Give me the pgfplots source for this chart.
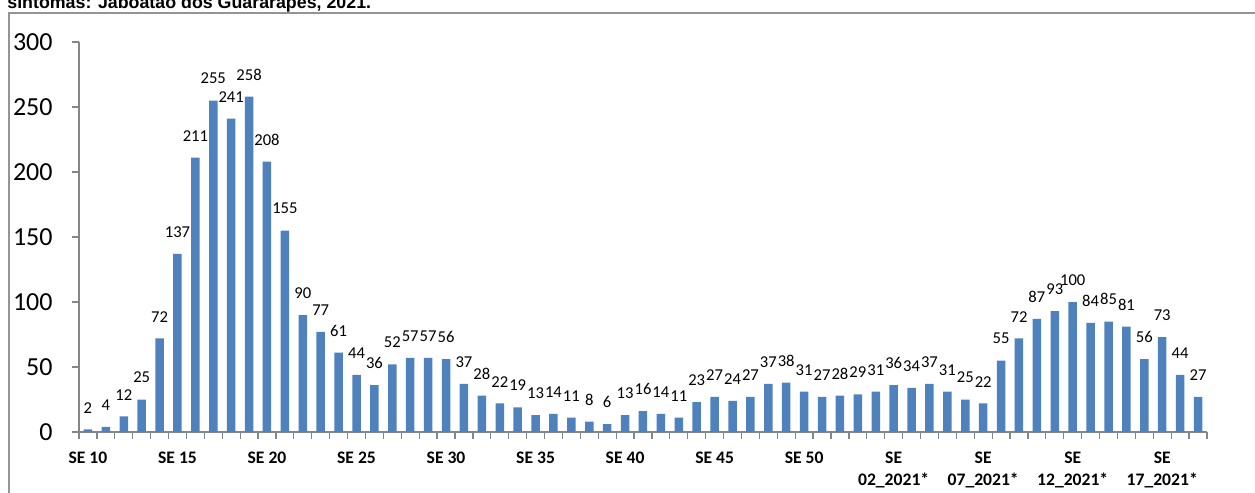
\documentclass[border=0pt]{standalone}
\usepackage{pgfplots}
\pgfplotsset{compat=1.18}
\usepackage{fontspec}
\setmainfont{Carlito}
\newfontfamily\arialfont{Liberation Sans}
\definecolor{barblue}{HTML}{4F81BD}
\definecolor{axisgray}{HTML}{868686}
\definecolor{framegray}{HTML}{949494}

\begin{document}
\begin{tikzpicture}
\begin{axis}[
  scale only axis, width=564pt, height=195pt,
  ybar, bar width=4.25pt,
  xmin=-0.5, xmax=62.5, ymin=0, ymax=300,
  axis x line*=bottom, axis y line*=left,
  axis line style={draw=axisgray, line width=0.6pt},
  tick style={draw=axisgray, line width=0.6pt},
  tick align=outside, major tick length=0pt, minor tick length=3.5pt,
  xtick={0,5,...,60},
  xticklabels={SE 10,SE 15,SE 20,SE 25,SE 30,SE 35,SE 40,SE 45,SE 50,
    {SE\\02\_2021*},{SE\\07\_2021*},{SE\\12\_2021*},{SE\\17\_2021*}},
  minor xtick={-0.5,0.5,...,62.5},
  xticklabel style={align=center, anchor=north, inner sep=0pt, yshift=-10pt,
      font=\bfseries\fontsize{8.8}{11}\selectfont},
  ytick={0,50,...,300}, minor ytick={0,50,...,300},
  yticklabel style={anchor=east, inner sep=0pt, xshift=-13pt,
    font=\fontsize{13}{15}\selectfont},
  /pgf/number format/assume math mode=true,
  nodes near coords,
  nodes near coords style={font=\fontsize{8.3}{10}\selectfont, anchor=south,
    inner sep=0pt, yshift=8pt, text=black},
  clip=false,
]
\addplot[fill=barblue, draw=none] coordinates {
(0,2)(1,4)(2,12)(3,25)(4,72)(5,137)(6,211)(7,255)(8,241)(9,258)
(10,208)(11,155)(12,90)(13,77)(14,61)(15,44)(16,36)(17,52)(18,57)(19,57)
(20,56)(21,37)(22,28)(23,22)(24,19)(25,13)(26,14)(27,11)(28,8)(29,6)
(30,13)(31,16)(32,14)(33,11)(34,23)(35,27)(36,24)(37,27)(38,37)(39,38)
(40,31)(41,27)(42,28)(43,29)(44,31)(45,36)(46,34)(47,37)(48,31)(49,25)
(50,22)(51,55)(52,72)(53,87)(54,93)(55,100)(56,84)(57,85)(58,81)(59,56)
(60,73)(61,44)(62,27)};
\coordinate (O) at (rel axis cs:0,0);
\end{axis}
% frame, cut title and page, in reference pixels measured from the axis corner
\begin{scope}[shift={(O)}, x=0.5pt, y=0.5pt]
\draw[framegray, line width=1pt] (-70,-80) -- (-70,419.2) -- (1200,419.2);
\node[anchor=base west, inner sep=0pt, font=\arialfont\bfseries\fontsize{8.9}{10}\selectfont]
  at (-72,423.5) {sintomas: Jaboatão dos Guararapes, 2021.};
\pgfresetboundingbox
\useasboundingbox (-79,-61) rectangle (1176,432);
\end{scope}
\end{tikzpicture}
\end{document}
